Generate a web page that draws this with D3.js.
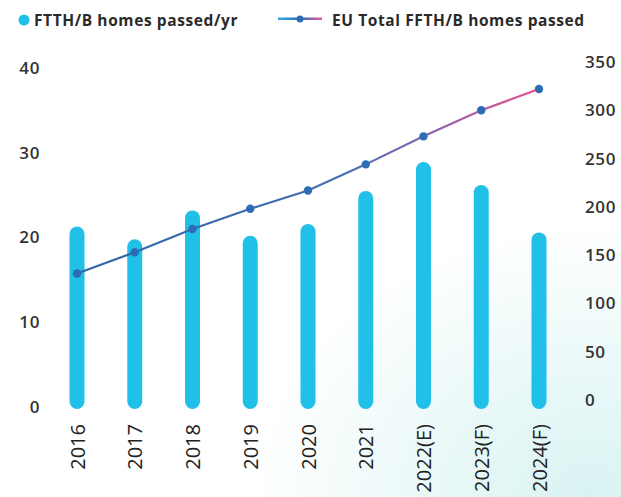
<!DOCTYPE html>
<html>
<head>
<meta charset="utf-8">
<script src="https://cdn.jsdelivr.net/npm/d3@7"></script>
<style>
  body { margin: 0; background: #fff; }
  text { font-family: "Open Sans", "Noto Sans", sans-serif; }
</style>
</head>
<body>
<script>
var w = 621, h = 497;

// data
var years = ["2016", "2017", "2018", "2019", "2020", "2021", "2022(E)", "2023(F)", "2024(F)"];
var homesPerYear = [21.3, 19.8, 23.2, 20.2, 21.6, 25.5, 28.9, 26.2, 20.6];
var euTotal = [131, 153, 177, 198, 217, 244, 273, 300, 322];
var leftTicks = [0, 10, 20, 30, 40];
var rightTicks = [0, 50, 100, 150, 200, 250, 300, 350];

var svg = d3.select("body")
    .append("svg")
    .attr("width", w)
    .attr("height", h);

var defs = svg.append("defs");

var bg = defs.append("radialGradient")
    .attr("id", "bgTint")
    .attr("cx", 0.95).attr("cy", 1.0).attr("r", 0.55);
bg.append("stop").attr("offset", "0%").attr("stop-color", "#d8f3f2");
bg.append("stop").attr("offset", "100%").attr("stop-color", "#ffffff");

svg.append("rect")
    .attr("width", w).attr("height", h)
    .attr("fill", "url(#bgTint)");

var xScale = d3.scalePoint()
    .domain(years)
    .range([77, 539]);

var yLeft = d3.scaleLinear()
    .domain([0, 40])
    .range([407, 68]);

var yRight = d3.scaleLinear()
    .domain([0, 350])
    .range([400, 62]);

var lineGrad = defs.append("linearGradient")
    .attr("id", "lineGrad")
    .attr("gradientUnits", "userSpaceOnUse")
    .attr("x1", 77).attr("x2", 539).attr("y1", 0).attr("y2", 0);
lineGrad.append("stop").attr("offset", "0%").attr("stop-color", "#2d66a8");
lineGrad.append("stop").attr("offset", "58%").attr("stop-color", "#4570b2");
lineGrad.append("stop").attr("offset", "80%").attr("stop-color", "#9a62ad");
lineGrad.append("stop").attr("offset", "100%").attr("stop-color", "#ec4b8b");

var legGrad = defs.append("linearGradient")
    .attr("id", "legGrad")
    .attr("x1", 0).attr("x2", 1);
legGrad.append("stop").attr("offset", "0%").attr("stop-color", "#3aa6e0");
legGrad.append("stop").attr("offset", "50%").attr("stop-color", "#2d6fb6");
legGrad.append("stop").attr("offset", "100%").attr("stop-color", "#ec5a9a");

// bars with rounded ends
var barW = 15;
svg.selectAll("rect.bar")
    .data(homesPerYear)
    .enter()
    .append("rect")
    .attr("class", "bar")
    .attr("x", (d, i) => xScale(years[i]) - barW / 2)
    .attr("y", d => yLeft(d))
    .attr("width", barW)
    .attr("height", d => yLeft(0) - yLeft(d) + 2)
    .attr("rx", barW / 2)
    .attr("fill", "#20c0e8");

// total line
var line = d3.line()
    .x((d, i) => xScale(years[i]))
    .y(d => yRight(d));

svg.append("path")
    .datum(euTotal)
    .attr("d", line)
    .attr("fill", "none")
    .attr("stroke", "url(#lineGrad)")
    .attr("stroke-width", 2.2);

svg.selectAll("circle.pt")
    .data(euTotal)
    .enter()
    .append("circle")
    .attr("class", "pt")
    .attr("cx", (d, i) => xScale(years[i]))
    .attr("cy", d => yRight(d))
    .attr("r", 4.2)
    .attr("fill", "#2c6db5");

// axes
var leftAxis = d3.axisLeft(yLeft).tickValues(leftTicks).tickSize(0).tickPadding(0);
var gl = svg.append("g")
    .attr("transform", "translate(40,0)")
    .call(leftAxis);

var rightAxis = d3.axisRight(yRight).tickValues(rightTicks).tickSize(0).tickPadding(0);
var gr = svg.append("g")
    .attr("transform", "translate(585,0)")
    .call(rightAxis);

[gl, gr].forEach(g => {
    g.select(".domain").remove();
    g.selectAll("text")
        .attr("font-family", "'Open Sans', sans-serif")
        .attr("font-size", "17px")
        .attr("font-weight", 600)
        .attr("letter-spacing", "0.6px")
        .attr("fill", "#333");
});

var xAxis = d3.axisBottom(xScale).tickSize(0).tickPadding(0);
var gx = svg.append("g")
    .attr("transform", "translate(0,424)")
    .call(xAxis);
gx.select(".domain").remove();
gx.selectAll("text")
    .attr("font-family", "'Liberation Sans', Arial, sans-serif")
    .attr("font-size", "20px")
    .attr("fill", "#222")
    .attr("text-anchor", "end")
    .attr("dy", null)
    .attr("y", 0)
    .attr("transform", "rotate(-90) translate(0,7)")
    .attr("x", 0);

// legend
var legend = svg.append("g");
legend.append("circle")
    .attr("cx", 24).attr("cy", 20).attr("r", 5.5)
    .attr("fill", "#20c0e8");
legend.append("text")
    .attr("x", 34).attr("y", 26)
    .attr("font-size", "15.5px")
    .attr("font-weight", 700)
    .attr("letter-spacing", "0.6px")
    .attr("fill", "#2a2a2a")
    .text("FTTH/B homes passed/yr");

legend.append("rect")
    .attr("x", 278).attr("y", 17.5)
    .attr("width", 44).attr("height", 2.5)
    .attr("fill", "url(#legGrad)");
legend.append("circle")
    .attr("cx", 300).attr("cy", 19).attr("r", 3.5)
    .attr("fill", "#2c6db5");
legend.append("text")
    .attr("x", 332).attr("y", 26)
    .attr("font-size", "15.5px")
    .attr("font-weight", 700)
    .attr("letter-spacing", "0.6px")
    .attr("fill", "#2a2a2a")
    .text("EU Total FFTH/B homes passed");
</script>
</body>
</html>
